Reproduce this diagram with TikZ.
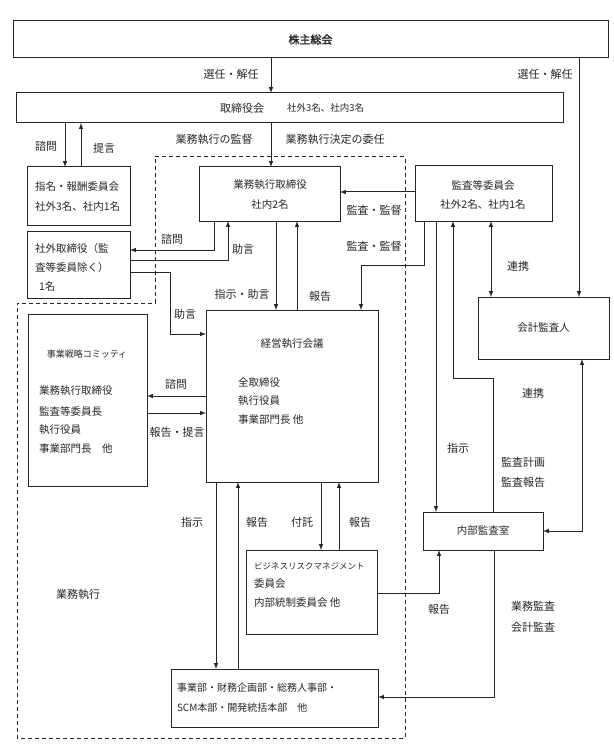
\documentclass[tikz,border=0pt]{standalone}
\usepackage{fontspec}
\setmainfont{Noto Sans CJK JP}[AutoFakeBold=2]

\begin{document}
\begin{tikzpicture}[x=1pt,y=-1pt,>=latex,line width=1pt,
        every node/.style={inner sep=0pt,outer sep=0pt,text=black!85},
        box/.style={draw=black!85,anchor=north west,line width=1pt},
        lbl/.style={font=\fontsize{11}{13}\selectfont},
        txt/.style={font=\fontsize{10.5}{12}\selectfont,anchor=west},
        sml/.style={font=\fontsize{8.5}{10}\selectfont}]
        \useasboundingbox (0,0) rectangle (613,751);

        % area of business execution
        \draw [black!85,dash pattern=on 4pt off 3pt] (155,157) -- (405,157) -- (405,738) -- (17,738) -- (17,303) -- (155,303) -- cycle;

        \node [box, minimum width=595, minimum height=37, font=\fontsize{11}{13}\selectfont\bfseries] at (13,21) (GM) {株主総会};
        \node [box, minimum width=547, minimum height=30] at (16,93) (Board) {};
        \node [box, minimum width=103, minimum height=58] at (27,167) (Nom) {};
        \node [box, minimum width=103, minimum height=67] at (27,231) (Out) {};
        \node [box, minimum width=141, minimum height=54] at (199,167) (ExD) {};
        \node [box, minimum width=137, minimum height=55] at (415,166) (Aud) {};
        \node [box, minimum width=131, minimum height=62, font=\fontsize{10.5}{12}\selectfont] at (478,297) (Acc) {会計監査人};
        \node [box, minimum width=172, minimum height=172] at (206,310) (Mgmt) {};
        \node [box, minimum width=119, minimum height=172] at (28,314) (Strat) {};
        \node [box, minimum width=131, minimum height=84] at (246,550) (Risk) {};
        \node [box, minimum width=207, minimum height=58] at (171,669) (Div) {};
        \node [box, minimum width=120, minimum height=38, font=\fontsize{10.5}{12}\selectfont] at (423,512) (Int) {内部監査室};

        % texts in the boxes
        \node [lbl] at (242,108) (BoardT) {取締役会};
        \node [sml, anchor=west, font=\fontsize{9.5}{11}\selectfont] at (287,108) (BoardN) {社外3名、社内3名};
        \node [txt] at (35,187) (NomA) {指名・報酬委員会};
        \node [txt] at (35,207) (NomB) {社外3名、社内1名};
        \node [txt] at (35,249) (OutA) {社外取締役（監};
        \node [txt] at (35,268) (OutB) {査等委員除く）};
        \node [txt] at (39,287) (OutC) {1名};
        \node [txt, anchor=center] at (270,185) (ExDA) {業務執行取締役};
        \node [txt, anchor=center] at (270,205) (ExDB) {社内2名};
        \node [txt, anchor=center] at (483,185) (AudA) {監査等委員会};
        \node [txt, anchor=center] at (483,205) (AudB) {社外2名、社内1名};
        \node [txt, anchor=center] at (292,344) (MgmtT) {経営執行会議};
        \node [txt] at (238,383) (MgmtA) {全取締役};
        \node [txt] at (238,401) (MgmtB) {執行役員};
        \node [txt] at (238,420) (MgmtC) {事業部門長 他};
        \node [sml, font=\fontsize{9}{11}\selectfont] at (87,354) (StratT) {事業戦略コミッティ};
        \node [txt] at (39,391) (StratA) {業務執行取締役};
        \node [txt] at (39,411) (StratB) {監査等委員長};
        \node [txt] at (39,430) (StratC) {執行役員};
        \node [txt] at (39,449) (StratD) {事業部門長　他};
        \node [sml, anchor=west] at (254,566) (RiskA) {ビジネスリスクマネジメント};
        \node [txt] at (254,584) (RiskB) {委員会};
        \node [txt] at (254,603) (RiskC) {内部統制委員会 他};
        \node [txt, font=\fontsize{10}{12}\selectfont] at (177,688) (DivA) {事業部・財務企画部・総務人事部・};
        \node [txt, font=\fontsize{10}{12}\selectfont] at (177,708) (DivB) {SCM本部・開発統括本部　他};
        \node [lbl] at (78,594) (Exec) {業務執行};

        % connectors
        \draw [->,black!85] (271,0 |- GM.south) -- (271,0 |- Board.north);
        \node [lbl] at (231,74) (L1) {選任・解任};
        \draw [->,black!85] (579,0 |- GM.south) -- (579,0 |- Acc.north);
        \node [lbl] at (545,74) (L2) {選任・解任};
        \draw [->,black!85] (65,0 |- Board.south) -- (65,0 |- Nom.north);
        \node [lbl] at (46,146) (L3) {諮問};
        \draw [->,black!85] (81,0 |- Nom.north) -- (81,0 |- Board.south);
        \node [lbl] at (104,148) (L4) {提言};
        \draw [->,black!85] (271,0 |- Board.south) -- (271,0 |- ExD.north);
        \node [lbl] at (214,139) (L5) {業務執行の監督};
        \node [lbl] at (335,139) (L6) {業務執行決定の委任};

        \draw [->,black!85] (Aud.west |- 0,192) -- (ExD.east |- 0,192);
        \node [lbl] at (374,210) (L7) {監査・監督};
        \draw [->,black!85] (424,0 |- Aud.south) -- (424,265) -- (361,265) -- (361,0 |- Mgmt.north);
        \node [lbl] at (374,246) (L8) {監査・監督};

        \draw [->,black!85] (276,0 |- ExD.south) -- (276,0 |- Mgmt.north);
        \node [lbl] at (242,294) (L9) {指示・助言};
        \draw [->,black!85] (297,0 |- Mgmt.north) -- (297,0 |- ExD.south);
        \node [lbl] at (320,296) (L10) {報告};

        \draw [->,black!85] (214,0 |- ExD.south) -- (214,250) -- (Out.east |- 0,250);
        \node [lbl] at (172,239) (L11) {諮問};
        \draw [->,black!85] (Out.east |- 0,260) -- (228,260) -- (228,0 |- ExD.south);
        \node [lbl] at (243,249) (L12) {助言};
        \draw [->,black!85] (Out.east |- 0,272) -- (170,272) -- (170,334) -- (Mgmt.west |- 0,334);
        \node [lbl] at (185,314) (L13) {助言};

        \draw [->,black!85] (Mgmt.west |- 0,396) -- (Strat.east |- 0,396);
        \node [lbl] at (176,384) (L14) {諮問};
        \draw [->,black!85] (Strat.east |- 0,413) -- (Mgmt.west |- 0,413);
        \node [lbl] at (177,432) (L15) {報告・提言};

        \draw [->,black!85] (216,0 |- Mgmt.south) -- (216,0 |- Div.north);
        \node [lbl] at (192,522) (L16) {指示};
        \draw [->,black!85] (238,0 |- Div.north) -- (238,0 |- Mgmt.south);
        \node [lbl] at (257,522) (L17) {報告};
        \draw [->,black!85] (321,0 |- Mgmt.south) -- (321,0 |- Risk.north);
        \node [lbl] at (302,522) (L18) {付託};
        \draw [->,black!85] (339,0 |- Risk.north) -- (339,0 |- Mgmt.south);
        \node [lbl] at (360,522) (L19) {報告};

        \draw [<->,black!85] (491,0 |- Aud.south) -- (491,0 |- Acc.north);
        \node [lbl] at (518,266) (L20) {連携};
        \draw [->,black!85] (436,0 |- Aud.south) -- (436,0 |- Int.north);
        \node [lbl] at (458,448) (L21) {指示};
        \draw [->,black!85] (493,0 |- Int.north) -- (493,378) -- (453,378) -- (453,0 |- Aud.south);
        \node [lbl] at (523,462) (L22) {監査計画};
        \node [lbl] at (523,482) (L23) {監査報告};
        \draw [<->,black!85] (Int.east |- 0,531) -- (582,531) -- (582,0 |- Acc.south);
        \node [lbl] at (533,393) (L24) {連携};

        \draw [->,black!85] (Risk.east |- 0,593) -- (439,593) -- (439,0 |- Int.south);
        \node [lbl] at (439,609) (L25) {報告};
        \draw [->,black!85] (494,0 |- Int.south) -- (494,697) -- (Div.east |- 0,697);
        \node [lbl] at (533,606) (L26) {業務監査};
        \node [lbl] at (533,627) (L27) {会計監査};

\end{tikzpicture}
\end{document}
